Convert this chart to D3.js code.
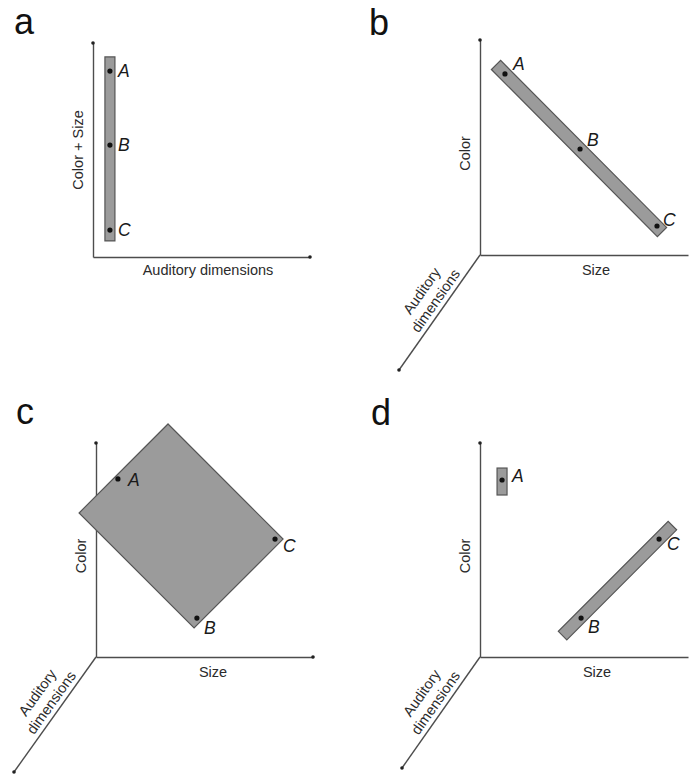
<!DOCTYPE html>
<html>
<head>
<meta charset="utf-8">
<script src="https://cdn.jsdelivr.net/npm/d3@7"></script>
<style>
  body { margin: 0; background: #fff; }
  svg { display: block; }
  text { font-family: "Liberation Sans", Arial, Helvetica, sans-serif; }
</style>
</head>
<body>
<svg id="chart" width="689" height="775"></svg>
<script>
// ---- Data (axis units 0–100 on every drawn axis) ----
const stimulusLabels = ["A", "B", "C"];
const panelLetters = ["a", "b", "c", "d"];
const auditoryTitle = ["Auditory", "dimensions"];
const sizeTitle = "Size";
const colorTitle = "Color";
const combinedTitle = "Color + Size";
const auditoryFlatTitle = "Auditory dimensions";

// a: stimuli on one combined visual axis, identical auditory value
const aAuditory = [7.8, 7.8, 7.8];
const aVisual = [86.9, 52.3, 12.6];
const aBandAuditory = [7.8, 7.8];
const aBandVisual = [93.5, 7.5];

// b: stimuli along a single diagonal in Size × Color
const bSize = [12.0, 48.1, 85.1];
const bColor = [84.2, 49.3, 13.5];
const bBandSize = [7.7, 87.5];
const bBandColor = [88.4, 10.7];

// c: stimuli on one plane (corners listed top, right, bottom, left)
const cSize = [10.1, 46.5, 82.5];
const cColor = [83.2, 18.2, 55.1];
const cPlaneSize = [33.2, 86.2, 45.2, -7.8];
const cPlaneColor = [108.9, 55.1, 13.6, 67.3];

// d: A isolated, B and C along a separate diagonal
const dSize = [10.6, 48.6, 86.1];
const dColor = [82.7, 18.2, 55.1];
const dBoxSize = [8.2, 13.0];
const dBoxColor = [75.7, 88.3];
const dBandSize = [39.7, 92.5];
const dBandColor = [10.0, 61.4];

// ---- Layout & style ----
const AXIS = "#4d4d4d";
const FILL = "#9b9b9b";
const EDGE = "#555";
const INK = "#2b2b2b";
const TITLE_SIZE = 14.5;

const layout = {
  a: { letter: [14, 34], origin: [93, 257], xLen: 217, yLen: 214, diag: null, bandW: 10,
       lab: [[8, 0], [8, 0], [8, 0]] },
  b: { letter: [369, 35], origin: [480, 255], xLen: 208, yLen: 215, diag: [-81, 115], bandW: 13,
       lab: [[8, -10], [7, -9], [6, -6]] },
  c: { letter: [16, 424], origin: [96, 657], xLen: 217, yLen: 214, diag: [-82, 115],
       lab: [[10, 1], [7, 10], [8, 7]] },
  d: { letter: [371, 425], origin: [480, 657], xLen: 208, yLen: 214, diag: [-78, 111], bandW: 12,
       lab: [[10, -4], [7, 9], [8, 5]] }
};

const svg = d3.select("#chart");

function scalesFor(p) {
  return {
    x: d3.scaleLinear().domain([0, 100]).range([p.origin[0], p.origin[0] + p.xLen]),
    y: d3.scaleLinear().domain([0, 100]).range([p.origin[1], p.origin[1] - p.yLen])
  };
}

function bandPolygon(x0, y0, x1, y1, w) {
  const dx = x1 - x0, dy = y1 - y0, L = Math.hypot(dx, dy);
  const nx = -dy / L * w / 2, ny = dx / L * w / 2;
  return [[x0 + nx, y0 + ny], [x1 + nx, y1 + ny], [x1 - nx, y1 - ny], [x0 - nx, y0 - ny]];
}

function drawAxes(g, p, s, withArrowX) {
  const ax = g.append("g").attr("transform", `translate(0,${p.origin[1]})`)
    .call(d3.axisBottom(s.x).tickValues([]).tickSizeOuter(0));
  const ay = g.append("g").attr("transform", `translate(${p.origin[0]},0)`)
    .call(d3.axisLeft(s.y).tickValues([]).tickSizeOuter(0));
  [ax, ay].forEach(a => a.select(".domain").attr("stroke", AXIS).attr("stroke-width", 1.4));
  // tip markers
  g.append("circle").attr("cx", p.origin[0]).attr("cy", s.y(100)).attr("r", 1.8).attr("fill", "#222");
  if (withArrowX) g.append("circle").attr("cx", s.x(100)).attr("cy", p.origin[1]).attr("r", 1.8).attr("fill", "#222");
  if (p.diag) {
    const t = d3.scaleLinear().domain([0, 100]).range([0, 1]);
    const end = [p.origin[0] + p.diag[0] * t(100), p.origin[1] + p.diag[1] * t(100)];
    g.append("line").attr("x1", p.origin[0]).attr("y1", p.origin[1])
      .attr("x2", end[0]).attr("y2", end[1]).attr("stroke", AXIS).attr("stroke-width", 1.4);
    g.append("circle").attr("cx", end[0]).attr("cy", end[1]).attr("r", 1.8).attr("fill", "#222");
    // rotated two-line title along the oblique axis
    const L = Math.hypot(p.diag[0], p.diag[1]);
    const u = [p.diag[0] / L, p.diag[1] / L];
    const anchor = [p.origin[0] + u[0] * 63, p.origin[1] + u[1] * 63];
    const ang = Math.atan2(-p.diag[1], -p.diag[0]) * 180 / Math.PI;
    const tg = g.append("g").attr("transform", `translate(${anchor[0]},${anchor[1]}) rotate(${ang})`);
    tg.selectAll("text").data(auditoryTitle).join("text")
      .attr("x", 0).attr("y", (d, i) => i === 0 ? -22 : -5)
      .attr("text-anchor", "middle").attr("font-size", TITLE_SIZE).attr("fill", INK).text(d => d);
  }
}

function drawPoints(g, p, xs, ys, s) {
  g.selectAll("circle.pt").data(stimulusLabels).join("circle").attr("class", "pt")
    .attr("cx", (d, i) => s.x(xs[i])).attr("cy", (d, i) => s.y(ys[i]))
    .attr("r", 2.6).attr("fill", "#111");
  g.selectAll("text.pl").data(stimulusLabels).join("text").attr("class", "pl")
    .attr("x", (d, i) => s.x(xs[i]) + p.lab[i][0])
    .attr("y", (d, i) => s.y(ys[i]) + p.lab[i][1])
    .attr("dy", "0.36em").attr("font-size", 17.5).attr("font-style", "italic")
    .attr("fill", "#1a1a1a").text(d => d);
}

function drawLetter(g, p, letter) {
  g.append("text").attr("x", p.letter[0]).attr("y", p.letter[1])
    .attr("font-size", 36).attr("fill", "#111").text(letter);
}

function drawBand(g, s, xs, ys, w) {
  const poly = bandPolygon(s.x(xs[0]), s.y(ys[0]), s.x(xs[1]), s.y(ys[1]), w);
  g.append("polygon").attr("points", poly.map(q => q.join(",")).join(" "))
    .attr("fill", FILL).attr("stroke", EDGE).attr("stroke-width", 1.2);
}

// ---- Panel a ----
{
  const p = layout.a, s = scalesFor(p), g = svg.append("g");
  drawLetter(g, p, panelLetters[0]);
  drawAxes(g, p, s, true);
  drawBand(g, s, aBandAuditory, aBandVisual, p.bandW);
  drawPoints(g, p, aAuditory, aVisual, s);
  g.append("text").attr("transform", `translate(${p.origin[0] - 10},${s.y(50)}) rotate(-90)`)
    .attr("text-anchor", "middle").attr("font-size", TITLE_SIZE).attr("fill", INK).text(combinedTitle);
  g.append("text").attr("x", 208).attr("y", p.origin[1] + 18)
    .attr("text-anchor", "middle").attr("font-size", TITLE_SIZE).attr("fill", INK).text(auditoryFlatTitle);
}

// ---- Panels b, c, d share the 3-axis frame ----
function frame(key, idx, labelX) {
  const p = layout[key], s = scalesFor(p), g = svg.append("g");
  drawLetter(g, p, panelLetters[idx]);
  drawAxes(g, p, s, key === "c");
  g.append("text").attr("transform", `translate(${p.origin[0] - 10},${s.y(50) + 6}) rotate(-90)`)
    .attr("text-anchor", "middle").attr("font-size", TITLE_SIZE).attr("fill", INK).text(colorTitle);
  g.append("text").attr("x", labelX).attr("y", p.origin[1] + 20)
    .attr("text-anchor", "middle").attr("font-size", TITLE_SIZE).attr("fill", INK).text(sizeTitle);
  return { p, s, g };
}

{
  const { p, s, g } = frame("b", 1, 596);
  drawBand(g, s, bBandSize, bBandColor, p.bandW);
  drawPoints(g, p, bSize, bColor, s);
}

{
  const { p, s, g } = frame("c", 2, 213);
  const pts = cPlaneSize.map((v, i) => [s.x(v), s.y(cPlaneColor[i])]);
  g.append("polygon").attr("points", pts.map(q => q.join(",")).join(" "))
    .attr("fill", FILL).attr("stroke", EDGE).attr("stroke-width", 1.2);
  drawPoints(g, p, cSize, cColor, s);
}

{
  const { p, s, g } = frame("d", 3, 597);
  g.append("rect")
    .attr("x", s.x(dBoxSize[0])).attr("y", s.y(dBoxColor[1]))
    .attr("width", s.x(dBoxSize[1]) - s.x(dBoxSize[0]))
    .attr("height", s.y(dBoxColor[0]) - s.y(dBoxColor[1]))
    .attr("fill", FILL).attr("stroke", EDGE).attr("stroke-width", 1.2);
  drawBand(g, s, dBandSize, dBandColor, p.bandW);
  drawPoints(g, p, dSize, dColor, s);
}
</script>
</body>
</html>
